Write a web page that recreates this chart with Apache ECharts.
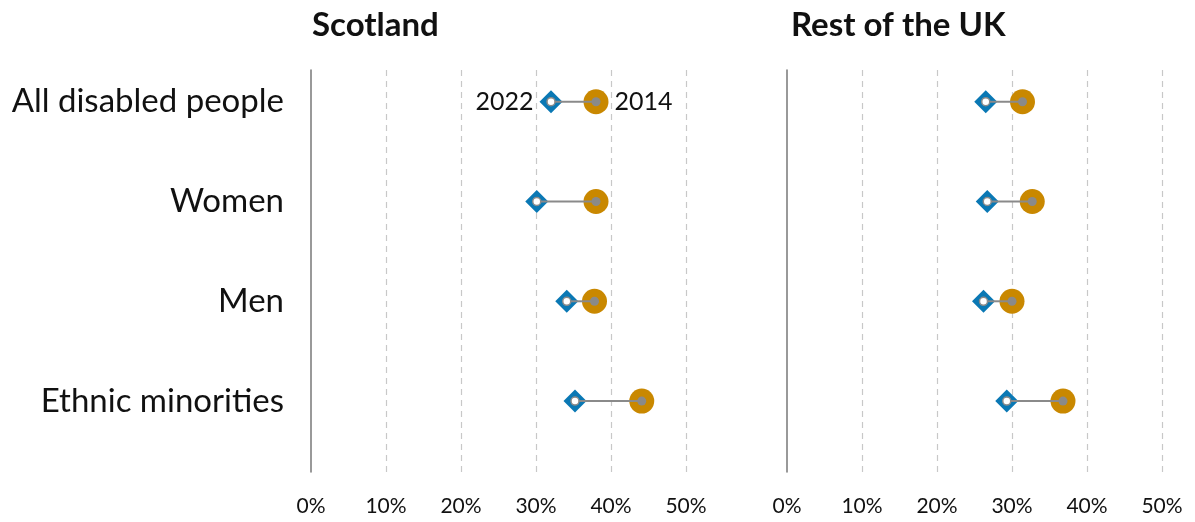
<!DOCTYPE html>
<html>
<head>
<meta charset="utf-8">
<script src="https://cdn.jsdelivr.net/npm/echarts@6/dist/echarts.min.js"></script>
<style>
  html, body { margin: 0; padding: 0; background: #fff; }
  #mainChart { width: 1195px; height: 522px; }
</style>
</head>
<body>
<div id="mainChart"></div>
<script>
var categories = ['All disabled people', 'Women', 'Men', 'Ethnic minorities'];
var xTicks = [0, 10, 20, 30, 40, 50];
var panelTitles = ['Scotland', 'Rest of the UK'];

var scot2014 = [38.0, 38.0, 37.8, 44.1];
var scot2022 = [32.0, 30.1, 34.1, 35.2];
var ruk2014 = [31.4, 32.7, 30.0, 36.8];
var ruk2022 = [26.5, 26.7, 26.2, 29.3];

var FONT = 'Lato, "Open Sans", sans-serif';
var ORANGE = '#c98800';
var BLUE = '#0a78b4';
var GREY = '#8a8a8a';

function pairs(vals) {
  return vals.map(function (v, i) { return [v, i]; });
}

function panelSeries(idx, v2014, v2022, withLabels) {
  var segs = v2022.map(function (v, i) { return [v, v2014[i], i]; });
  var diamonds = pairs(v2022);
  var circles = pairs(v2014);
  if (withLabels) {
    diamonds[0] = {
      value: diamonds[0],
      label: { show: true, position: 'left', distance: 6, formatter: '2022',
        color: '#111', fontSize: 25, fontFamily: FONT }
    };
    circles[0] = {
      value: circles[0],
      label: { show: true, position: 'right', distance: 6, formatter: '2014',
        color: '#111', fontSize: 25, fontFamily: FONT }
    };
  }
  return [
    {
      type: 'scatter', xAxisIndex: idx, yAxisIndex: idx, symbol: 'diamond',
      symbolSize: [23, 23], itemStyle: { color: BLUE, opacity: 1 },
      data: diamonds, silent: true, z: 2
    },
    {
      type: 'scatter', xAxisIndex: idx, yAxisIndex: idx, symbol: 'circle',
      symbolSize: 25, itemStyle: { color: ORANGE, opacity: 1 },
      data: circles, silent: true, z: 3
    },
    {
      type: 'custom', xAxisIndex: idx, yAxisIndex: idx, silent: true, z: 4,
      renderItem: function (params, api) {
        var a = api.coord([api.value(0), api.value(2)]);
        var b = api.coord([api.value(1), api.value(2)]);
        return {
          type: 'line',
          shape: { x1: a[0], y1: a[1], x2: b[0], y2: b[1] },
          style: { stroke: GREY, lineWidth: 2 }
        };
      },
      encode: { x: [0, 1], y: 2 },
      data: segs
    },
    {
      type: 'scatter', xAxisIndex: idx, yAxisIndex: idx, symbol: 'circle',
      symbolSize: 8, itemStyle: { color: '#fff', borderColor: GREY, borderWidth: 1.5, opacity: 1 },
      data: pairs(v2022), silent: true, z: 5
    },
    {
      type: 'scatter', xAxisIndex: idx, yAxisIndex: idx, symbol: 'circle',
      symbolSize: 9, itemStyle: { color: GREY, opacity: 1 },
      data: pairs(v2014), silent: true, z: 5
    }
  ];
}

function makeX(idx) {
  return {
    type: 'value', gridIndex: idx, min: 0, max: 50, interval: 10,
    axisLine: { show: false }, axisTick: { show: false },
    axisLabel: { margin: 24, fontSize: 21, color: '#111', fontFamily: FONT,
      formatter: function (v) { return v + '%'; } },
    splitLine: { show: true, showMinLine: false,
      lineStyle: { color: '#c8c8c8', type: [6, 5], width: 1.2 } }
  };
}

function makeY(idx, showLabels) {
  return {
    type: 'value', gridIndex: idx, inverse: true, min: -0.318, max: 3.711,
    axisLine: { show: true, lineStyle: { color: '#777', width: 1.5 } },
    axisTick: { show: false },
    splitLine: { show: false },
    axisLabel: {
      show: showLabels, customValues: [0, 1, 2, 3], margin: 27,
      fontSize: 33, color: '#111', fontFamily: FONT,
      formatter: function (v) { return categories[Math.round(v)] || ''; }
    }
  };
}

function chartInit() {
  var myChart = echarts.init(document.getElementById('mainChart'));
  var option = {
    animation: false,
    title: [
      { text: panelTitles[0], left: 307, top: 4,
        textStyle: { fontSize: 33, fontWeight: 'bold', color: '#111', fontFamily: FONT } },
      { text: panelTitles[1], left: 786, top: 4,
        textStyle: { fontSize: 33, fontWeight: 'bold', color: '#111', fontFamily: FONT } }
    ],
    grid: [
      { left: 311, top: 70, width: 375, height: 402 },
      { left: 787, top: 70, width: 375, height: 402 }
    ],
    xAxis: [makeX(0), makeX(1)],
    yAxis: [makeY(0, true), makeY(1, false)],
    series: panelSeries(0, scot2014, scot2022, true).concat(panelSeries(1, ruk2014, ruk2022, false))
  };
  myChart.setOption(option);
}

chartInit();
</script>
</body>
</html>
